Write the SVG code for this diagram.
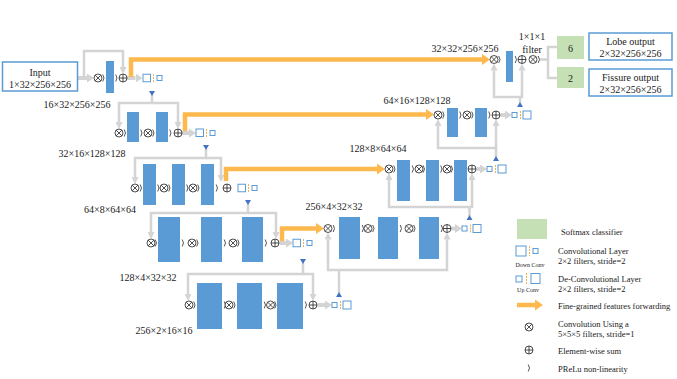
<svg xmlns="http://www.w3.org/2000/svg" width="677" height="379" viewBox="0 0 677 379">
<style>
text{font-family:"Liberation Serif","Times New Roman",serif;fill:#1a1a1a;font-size:10px}
.m{text-anchor:middle}
.lg{font-size:8.5px}
.sm{font-size:6px;text-anchor:middle}
.bar{fill:#5b9bd5}
.box{fill:#fff;stroke:#5b9bd5;stroke-width:1.5}
.sq{fill:#fff;stroke:#5b9bd5;stroke-width:1}
.dash{stroke:#f5b041;stroke-width:1;stroke-dasharray:2 1}
.green{fill:#c5e0b4}
.tri{fill:#4472c4}
.skip{fill:none;stroke:#d4d4d4;stroke-width:2.5}
.blk{fill:none;stroke:#d4d4d4;stroke-width:4}
.org{fill:none;stroke:#fdb94e;stroke-width:4.5}
</style>
<defs>
<marker id="hg" markerUnits="userSpaceOnUse" markerWidth="7" markerHeight="7" viewBox="0 0 7 7" refX="0" refY="3.5" orient="auto"><path d="M0,0 L7,3.5 L0,7z" fill="#d4d4d4"/></marker>
<marker id="hb" markerUnits="userSpaceOnUse" markerWidth="7" markerHeight="9" viewBox="0 0 7 9" refX="0" refY="4.5" orient="auto"><path d="M0,0 L7,4.5 L0,9z" fill="#d4d4d4"/></marker>
<marker id="ho" markerUnits="userSpaceOnUse" markerWidth="8" markerHeight="11" viewBox="0 0 8 11" refX="0" refY="5.5" orient="auto"><path d="M0,0 L8,5.5 L0,11z" fill="#fdb94e"/></marker>
<g id="ox"><circle r="4" fill="#fff" stroke="#222" stroke-width="0.8"/><path d="M-2.8,-2.8 L2.8,2.8 M-2.8,2.8 L2.8,-2.8" stroke="#222" stroke-width="0.8"/></g>
<g id="op"><circle r="4" fill="#fff" stroke="#222" stroke-width="0.8"/><path d="M-4,0 H4 M0,-4 V4" stroke="#222" stroke-width="0.8"/></g>
<path id="tk" d="M-0.8,-3.5 Q1.8,0 -0.8,3.5" fill="none" stroke="#444" stroke-width="0.9"/>
</defs>

<g id="connectors">
<line class="blk" x1="77.5" y1="78" x2="87" y2="78" marker-end="url(#hb)"/>
<path class="skip" d="M84,78 V51 H123 V67" marker-end="url(#hg)"/>
<line class="blk" x1="127" y1="78" x2="135.5" y2="78" marker-end="url(#hb)"/>
<path class="org" d="M131,77 V59.5 H482" marker-end="url(#ho)"/>

<path class="skip" d="M152,95 V103 H119 V122" marker-end="url(#hg)"/>
<path class="skip" d="M152,103 H178 V122" marker-end="url(#hg)"/>
<line class="blk" x1="182" y1="133" x2="189" y2="133" marker-end="url(#hb)"/>
<path class="org" d="M185,131 V114.5 H426" marker-end="url(#ho)"/>

<path class="skip" d="M206,149 V158 H135 V177" marker-end="url(#hg)"/>
<path class="skip" d="M206,158 H221 V175" marker-end="url(#hg)"/>
<path class="org" d="M226,181 V169 H377" marker-end="url(#ho)"/>

<path class="skip" d="M248,204 V213 H151 V232" marker-end="url(#hg)"/>
<path class="skip" d="M248,213 H276 V232" marker-end="url(#hg)"/>
<line class="blk" x1="279.5" y1="243" x2="286" y2="243" marker-end="url(#hb)"/>
<path class="org" d="M282,241 V228.5 H316" marker-end="url(#ho)"/>

<path class="skip" d="M303,263 V274 H188 V294" marker-end="url(#hg)"/>
<path class="skip" d="M303,274 H313 V294" marker-end="url(#hg)"/>
<line class="blk" x1="317.5" y1="305" x2="325" y2="305" marker-end="url(#hb)"/>

<path class="skip" d="M339,293 V270 H328 V239.5" marker-end="url(#hg)"/>
<path class="skip" d="M339,270 H447 V239.5" marker-end="url(#hg)"/>
<line class="blk" x1="451.5" y1="228.5" x2="455" y2="228.5" marker-end="url(#hb)"/>

<path class="skip" d="M469.5,216 V207 H389 V180" marker-end="url(#hg)"/>
<path class="skip" d="M469.5,207 H472 V180" marker-end="url(#hg)"/>
<line class="blk" x1="476.5" y1="169" x2="480" y2="169" marker-end="url(#hb)"/>

<path class="skip" d="M496,157 V148 H438 V126" marker-end="url(#hg)"/>
<path class="skip" d="M496,148 V126" marker-end="url(#hg)"/>
<line class="blk" x1="500.5" y1="115" x2="505" y2="115" marker-end="url(#hb)"/>

<path class="skip" d="M520,103 V97 H494 V70.5" marker-end="url(#hg)"/>
<path class="skip" d="M520,97 H522 V70.5" marker-end="url(#hg)"/>
<path class="skip" d="M540,59.5 H548 M548,46 V79 M547,47 H557 M547,78 H557"/>
</g>

<g id="input">
<rect class="box" x="2.5" y="62" width="75" height="29"/>
<text class="m" x="40" y="76">Input</text>
<text class="m" x="40" y="88">1×32×256×256</text>
</g>

<g id="enc1">
<use href="#ox" x="98" y="78"/><use href="#tk" x="103.5" y="78"/>
<rect class="bar" x="106" y="61" width="8" height="32"/>
<use href="#tk" x="116.5" y="78"/><use href="#op" x="123" y="78"/>
<rect class="sq" x="143" y="74.25" width="7.5" height="7.5"/><line class="dash" x1="153.5" y1="74" x2="153.5" y2="82"/><rect class="sq" x="157" y="75.5" width="5" height="5"/>
<polygon class="tri" points="149,91 155,91 152,96"/>
<text class="m" x="77" y="107.5">16×32×256×256</text>
</g>

<g id="enc2">
<use href="#ox" x="119" y="133"/><use href="#tk" x="125" y="133"/>
<rect class="bar" x="127" y="112" width="12" height="30"/>
<use href="#tk" x="141.5" y="133"/><use href="#ox" x="148" y="133"/><use href="#tk" x="153.5" y="133"/>
<rect class="bar" x="156" y="112" width="12" height="30"/>
<use href="#tk" x="170.5" y="133"/><use href="#op" x="178" y="133"/>
<rect class="sq" x="196" y="129" width="7.5" height="7.5"/><line class="dash" x1="206.5" y1="129" x2="206.5" y2="137"/><rect class="sq" x="210" y="130.5" width="5" height="5"/>
<polygon class="tri" points="203,145 209,145 206,150"/>
<text class="m" x="92" y="157">32×16×128×128</text>
</g>

<g id="enc3">
<use href="#ox" x="135" y="188"/><use href="#tk" x="141" y="188"/>
<rect class="bar" x="143" y="164" width="13" height="41"/>
<use href="#tk" x="158.5" y="188"/><use href="#ox" x="164" y="188"/><use href="#tk" x="169.5" y="188"/>
<rect class="bar" x="172" y="164" width="13" height="41"/>
<use href="#tk" x="187.5" y="188"/><use href="#ox" x="193" y="188"/><use href="#tk" x="198.5" y="188"/>
<rect class="bar" x="201" y="164" width="13" height="41"/>
<use href="#tk" x="217" y="188"/><use href="#op" x="227" y="188"/>
<rect class="sq" x="238" y="184.25" width="7.5" height="7.5"/><line class="dash" x1="248.5" y1="184" x2="248.5" y2="192"/><rect class="sq" x="252" y="185.5" width="5" height="5"/>
<polygon class="tri" points="245,200 251,200 248,205"/>
<text class="m" x="110" y="213">64×8×64×64</text>
</g>

<g id="enc4">
<use href="#ox" x="151" y="243"/><use href="#tk" x="156" y="243"/>
<rect class="bar" x="158" y="217" width="22" height="45"/>
<use href="#tk" x="183" y="243"/><use href="#ox" x="192" y="243"/><use href="#tk" x="197.5" y="243"/>
<rect class="bar" x="201" y="217" width="21" height="45"/>
<use href="#tk" x="225" y="243"/><use href="#ox" x="233" y="243"/><use href="#tk" x="238.5" y="243"/>
<rect class="bar" x="242" y="217" width="21" height="45"/>
<use href="#tk" x="266" y="243"/><use href="#op" x="275" y="243"/>
<rect class="sq" x="293" y="239.25" width="7.5" height="7.5"/><line class="dash" x1="303.5" y1="239" x2="303.5" y2="247"/><rect class="sq" x="307" y="240.5" width="5" height="5"/>
<polygon class="tri" points="300,259 306,259 303,264"/>
<text class="m" x="148" y="281">128×4×32×32</text>
</g>

<g id="bottom">
<use href="#ox" x="189" y="305"/><use href="#tk" x="194.5" y="305"/>
<rect class="bar" x="197" y="283" width="25" height="46"/>
<use href="#tk" x="225" y="305"/><use href="#ox" x="229" y="305"/><use href="#tk" x="234.5" y="305"/>
<rect class="bar" x="237" y="283" width="25" height="46"/>
<use href="#tk" x="265" y="305"/><use href="#ox" x="270.5" y="305"/><use href="#tk" x="275.5" y="305"/>
<rect class="bar" x="277" y="283" width="26" height="46"/>
<use href="#tk" x="306" y="305"/><use href="#op" x="313" y="305"/>
<rect class="sq" x="332" y="302.5" width="5" height="5"/><line class="dash" x1="340.5" y1="301" x2="340.5" y2="309"/><rect class="sq" x="343" y="301" width="8" height="8"/>
<polygon class="tri" points="336,297 342,297 339,292"/>
<text class="m" x="164" y="334">256×2×16×16</text>
</g>

<g id="dec4">
<use href="#ox" x="328" y="228.5"/><use href="#tk" x="334" y="228.5"/>
<rect class="bar" x="339" y="217" width="21" height="42"/>
<use href="#tk" x="363" y="228.5"/><use href="#ox" x="368" y="228.5"/><use href="#tk" x="373.5" y="228.5"/>
<rect class="bar" x="378" y="217" width="20" height="42"/>
<use href="#tk" x="401" y="228.5"/><use href="#ox" x="409" y="228.5"/><use href="#tk" x="414.5" y="228.5"/>
<rect class="bar" x="419" y="217" width="20" height="42"/>
<use href="#tk" x="442" y="228.5"/><use href="#op" x="447" y="228.5"/>
<rect class="sq" x="462" y="226" width="5" height="5"/><line class="dash" x1="470.5" y1="224.5" x2="470.5" y2="232.5"/><rect class="sq" x="473" y="224.5" width="8" height="8"/>
<polygon class="tri" points="466.5,220 472.5,220 469.5,215"/>
<text class="m" x="334" y="210">256×4×32×32</text>
</g>

<g id="dec3">
<use href="#ox" x="389" y="169"/><use href="#tk" x="394.5" y="169"/>
<rect class="bar" x="397" y="160" width="13" height="41"/>
<use href="#tk" x="413" y="169"/><use href="#ox" x="419" y="169"/><use href="#tk" x="424" y="169"/>
<rect class="bar" x="426" y="160" width="13" height="41"/>
<use href="#tk" x="441.5" y="169"/><use href="#ox" x="447" y="169"/><use href="#tk" x="452" y="169"/>
<rect class="bar" x="454" y="160" width="13" height="41"/>
<use href="#op" x="472" y="169"/>
<rect class="sq" x="487" y="166.5" width="5" height="5"/><line class="dash" x1="495.5" y1="165" x2="495.5" y2="173"/><rect class="sq" x="498" y="165" width="8" height="8"/>
<polygon class="tri" points="493,161 499,161 496,156"/>
<text class="m" x="378" y="152">128×8×64×64</text>
</g>

<g id="dec2">
<use href="#ox" x="438" y="115"/><use href="#tk" x="443.5" y="115"/>
<rect class="bar" x="447" y="108" width="11" height="29"/>
<use href="#tk" x="460.5" y="115"/><use href="#ox" x="467" y="115"/><use href="#tk" x="472.5" y="115"/>
<rect class="bar" x="475" y="108" width="12" height="29"/>
<use href="#tk" x="489.5" y="115"/><use href="#op" x="496" y="115"/>
<rect class="sq" x="512" y="112.5" width="5" height="5"/><line class="dash" x1="520.5" y1="111" x2="520.5" y2="119"/><rect class="sq" x="523" y="111" width="8" height="8"/>
<polygon class="tri" points="517,107 523,107 520,102"/>
<text class="m" x="417" y="104">64×16×128×128</text>
</g>

<g id="dec1">
<use href="#ox" x="494" y="59.5"/><use href="#tk" x="499.5" y="59.5"/>
<rect class="bar" x="506" y="51" width="7" height="31"/>
<use href="#tk" x="516" y="59.5"/><use href="#op" x="522" y="59.5"/>
<use href="#ox" x="533" y="59.5"/><use href="#tk" x="539" y="59.5"/>
<text class="m" x="465" y="52">32×32×256×256</text>
<text class="m" x="532" y="40">1×1×1</text>
<text class="m" x="532" y="53">filter</text>
</g>

<g id="softmax6">
<rect class="green" x="557" y="36" width="27" height="23"/>
<text class="m" x="570.5" y="51.5">6</text>
</g>
<g id="softmax2">
<rect class="green" x="557" y="67" width="27" height="21"/>
<text class="m" x="570.5" y="81.5">2</text>
</g>
<g id="lobe">
<rect class="box" x="589" y="33" width="83" height="27"/>
<text class="m" x="630.5" y="45">Lobe output</text>
<text class="m" x="630.5" y="56.5">2×32×256×256</text>
</g>
<g id="fissure">
<rect class="box" x="589" y="69" width="83" height="27"/>
<text class="m" x="630.5" y="81">Fissure output</text>
<text class="m" x="630.5" y="92.5">2×32×256×256</text>
</g>

<g id="legend">
<rect class="green" x="517" y="219" width="30" height="20"/>
<text class="lg" x="561" y="235">Softmax classifier</text>
<rect class="sq" x="516" y="246" width="10" height="10"/><line class="dash" x1="529.5" y1="246" x2="529.5" y2="256"/><rect class="sq" x="533" y="248.5" width="5" height="5"/>
<text class="sm" x="530" y="267">Down Conv</text>
<text class="lg" x="558" y="254">Convolutional Layer</text>
<text class="lg" x="558" y="264">2×2 filters, stride=2</text>
<rect class="sq" x="516" y="276" width="6" height="6"/><line class="dash" x1="526.5" y1="273" x2="526.5" y2="284"/><rect class="sq" x="531" y="273.5" width="9" height="10"/>
<text class="sm" x="528" y="292">Up Conv</text>
<text class="lg" x="558" y="282">De-Convolutional Layer</text>
<text class="lg" x="558" y="292">2×2 filters, stride=2</text>
<line class="org" x1="517" y1="305" x2="535" y2="305" marker-end="url(#ho)"/>
<text class="lg" x="558" y="308.5">Fine-grained features forwarding</text>
<use href="#ox" x="529" y="327"/>
<text class="lg" x="558" y="327">Convolution Using a</text>
<text class="lg" x="558" y="337">5×5×5 filters, stride=1</text>
<use href="#op" x="529" y="350"/>
<text class="lg" x="558" y="354">Element-wise sum</text>
<use href="#tk" x="529" y="368"/>
<text class="lg" x="558" y="372">PReLu non-linearity</text>
</g>
</svg>
